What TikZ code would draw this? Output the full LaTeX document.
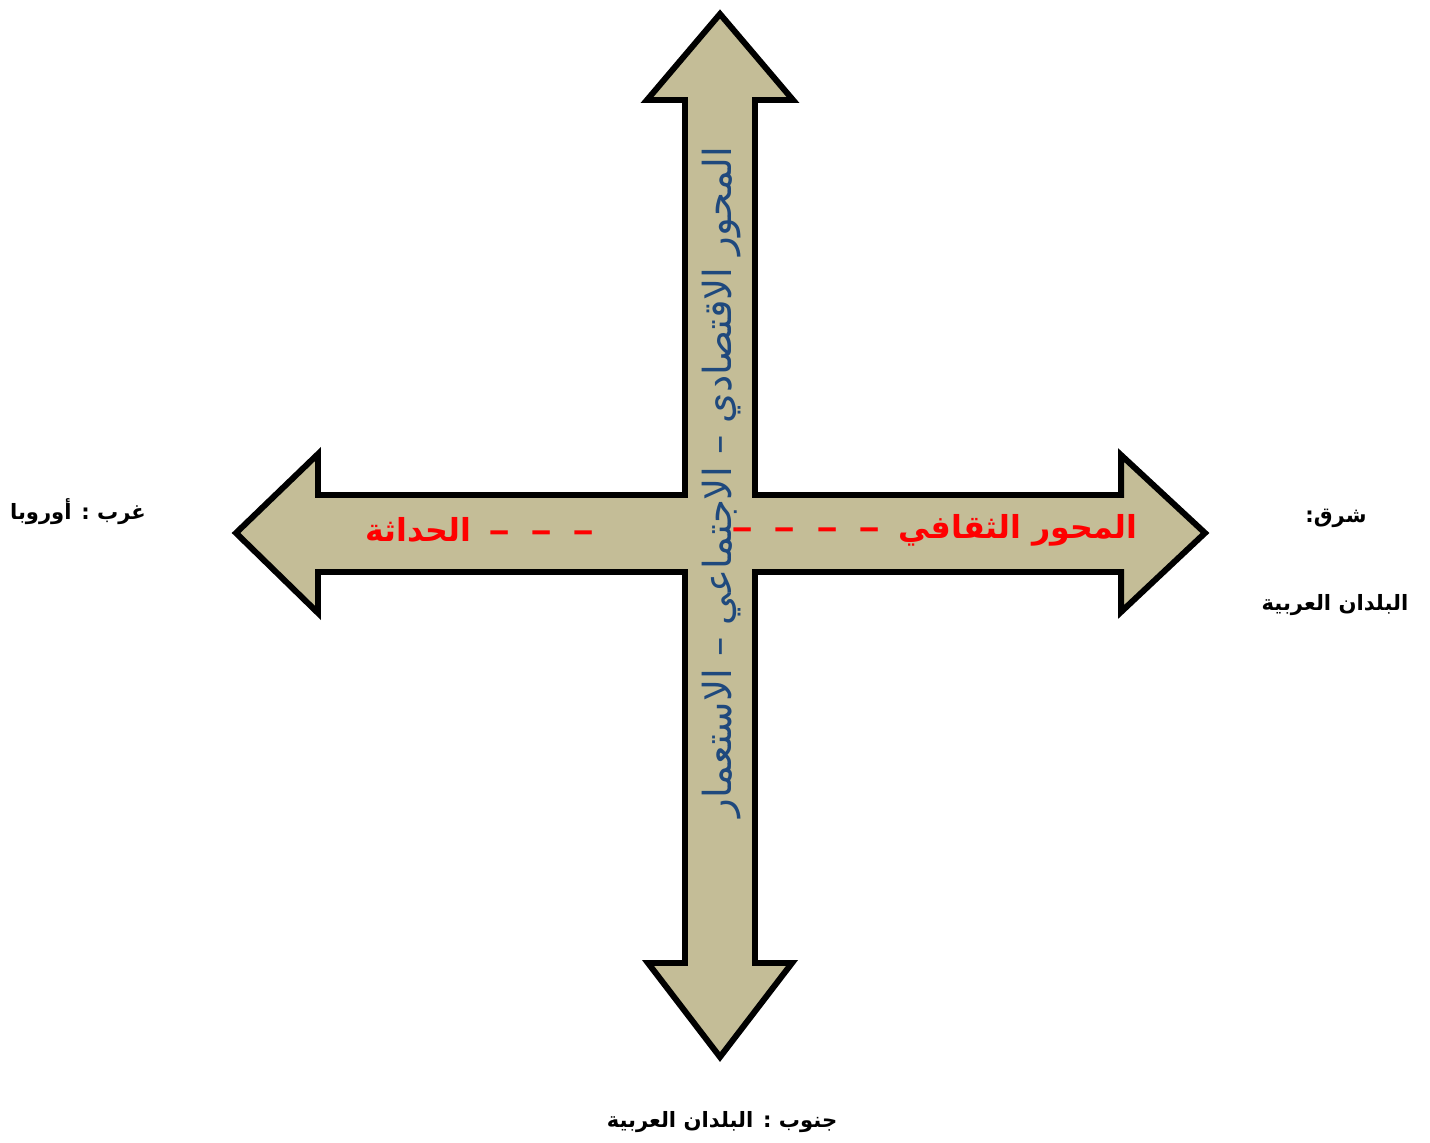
\documentclass[tikz,border=0pt]{standalone}
\usepackage{fontspec}
\usepackage{xcolor}
\usepackage{graphicx}
\newfontfamily\arabicfont[Script=Arabic]{DejaVu Sans}
\TeXXeTstate=1
\usetikzlibrary{positioning}
\definecolor{crosstan}{HTML}{C4BD97}
\definecolor{axisblue}{HTML}{1F497D}
\newcommand{\reddash}{\scalebox{1.4}[1]{–}}
\newcommand{\dashgap}{\hspace{0.2cm}}
\tikzset{
  sidelabel/.style={font=\arabicfont\bfseries\fontsize{6}{8}\selectfont, inner sep=0pt},
  axisred/.style={font=\arabicfont\bfseries\fontsize{9}{11}\selectfont, text=red, inner sep=0pt},
}

\begin{document}
\begin{tikzpicture}[x=0.01cm, y=-0.01cm]
  \useasboundingbox (0,0) rectangle (1430,1143);
  % the cross of four arrows
  \draw[line width=1.7pt, miter limit=10, fill=crosstan]
    (720,14) -- (793,100) -- (755,100) -- (755,495) -- (1121,495) -- (1121,455)
    -- (1205,533) -- (1121,612) -- (1121,572) -- (755,572) -- (755,963) -- (792,963)
    -- (720,1057) -- (648,963) -- (685,963) -- (685,572) -- (318,572) -- (318,613)
    -- (236,533) -- (318,454) -- (318,495) -- (685,495) -- (685,100) -- (647,100) -- cycle;
  % texts on the arrows (dashes set left to right, Arabic right to left)
  \node[axisred, anchor=east] (culture) at (1138,530)
    {\reddash\dashgap\reddash\dashgap\reddash\dashgap\reddash\hspace{0.18cm}\beginR المحور الثقافي\endR};
  \node[axisred, anchor=west] (modern) at (365,530)
    {\beginR الحداثة\endR\hspace{0.17cm}\reddash\dashgap\reddash\dashgap\reddash};
  \node[font=\arabicfont\fontsize{11}{13}\selectfont, text=axisblue, rotate=90, inner sep=0pt]
    (economy) at (722,482) {\beginR المحور الاقتصادي – الاجتماعي – الاستعمار\endR};
  % directions
  \node[sidelabel] (west) at (78,512) {\beginR غرب : أوروبا\endR};
  \node[sidelabel] (east) at (1336,518) {\beginR شرق:\endR};
  \node[sidelabel] (eastland) at (1335,605) {\beginR البلدان العربية\endR};
  \node[sidelabel] (south) at (722,1122) {\beginR جنوب : البلدان العربية\endR};
\end{tikzpicture}
\end{document}
